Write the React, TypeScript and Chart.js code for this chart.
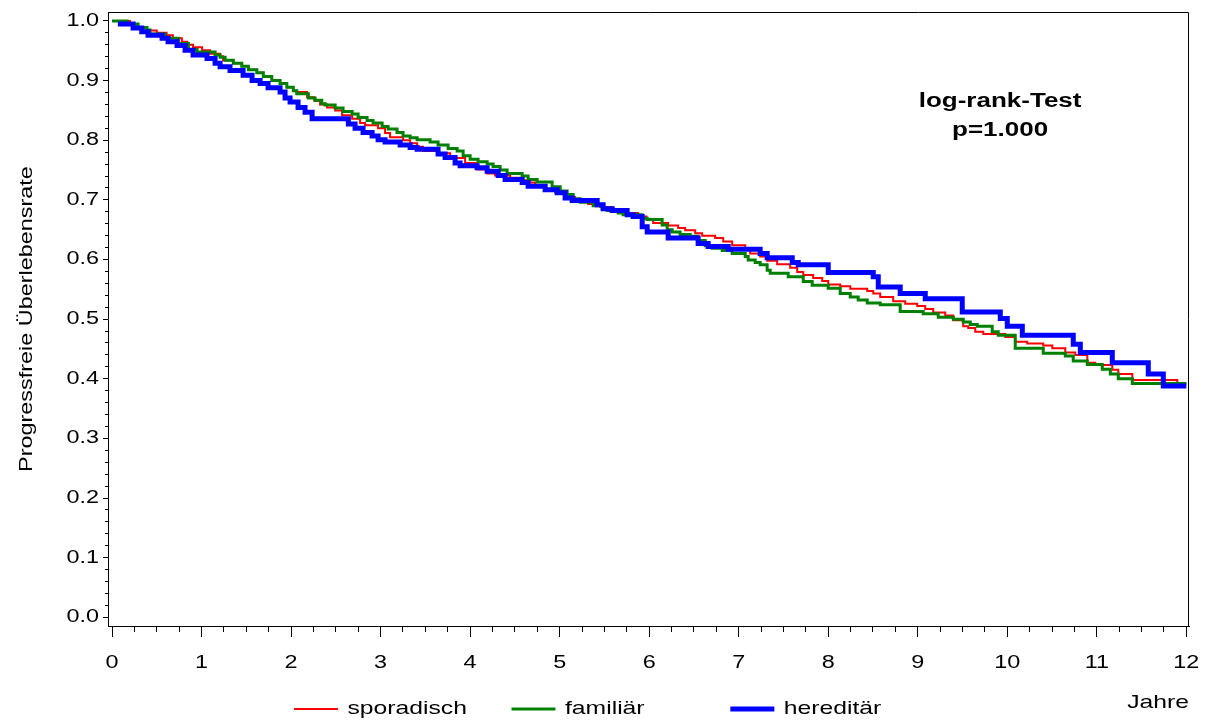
import React, { useEffect, useRef } from 'react';
import { Chart, registerables } from 'chart.js';

Chart.register(...registerables);

// ---------------- data ----------------
const seriesLabels = ['sporadisch', 'familiär', 'hereditär'];

const sporadischTime = [
  0, 0.2, 0.29, 0.39, 0.5, 0.61, 0.68, 0.78, 0.84, 0.905,
  1.006, 1.095, 1.207, 1.24, 1.352, 1.453, 1.52, 1.62, 1.687, 1.788,
  1.877, 1.955, 2.022, 2.06, 2.179, 2.26, 2.324, 2.402, 2.492, 2.57,
  2.682, 2.771, 2.827, 2.972, 3.05, 3.106, 3.251, 3.33, 3.408, 3.475,
  3.631, 3.777, 3.944, 4.078, 4.19, 4.279, 4.447, 4.559, 4.637, 4.726,
  4.838, 4.95, 5.061, 5.173, 5.318, 5.453, 5.587, 5.732, 5.877, 5.97,
  6.045, 6.212, 6.324, 6.402, 6.514, 6.592, 6.737, 6.827, 6.927, 7.073,
  7.128, 7.24, 7.318, 7.43, 7.575, 7.654, 7.721, 7.832, 7.933, 8.0,
  8.134, 8.246, 8.436, 8.503, 8.581, 8.726, 8.86, 8.994, 9.084, 9.173,
  9.307, 9.397, 9.508, 9.564, 9.642, 9.732, 9.978, 10.089, 10.223, 10.402,
  10.503, 10.648, 10.76, 10.894, 10.983, 11.173, 11.24, 11.397, 11.899, 12,
];
const sporadischSurvival = [
  1, 0.995, 0.99, 0.984, 0.98, 0.976, 0.971, 0.965, 0.96, 0.956,
  0.951, 0.945, 0.941, 0.934, 0.929, 0.924, 0.918, 0.913, 0.907, 0.9,
  0.895, 0.889, 0.883, 0.881, 0.872, 0.866, 0.86, 0.855, 0.85, 0.842,
  0.836, 0.829, 0.825, 0.82, 0.812, 0.805, 0.8, 0.795, 0.789, 0.782,
  0.778, 0.77, 0.762, 0.751, 0.744, 0.741, 0.737, 0.733, 0.729, 0.722,
  0.717, 0.712, 0.705, 0.699, 0.693, 0.688, 0.683, 0.678, 0.672, 0.667,
  0.661, 0.657, 0.653, 0.649, 0.644, 0.64, 0.636, 0.63, 0.624, 0.616,
  0.61, 0.605, 0.598, 0.592, 0.586, 0.579, 0.574, 0.569, 0.564, 0.558,
  0.555, 0.551, 0.547, 0.543, 0.537, 0.53, 0.526, 0.522, 0.517, 0.511,
  0.506, 0.498, 0.488, 0.485, 0.479, 0.475, 0.47, 0.462, 0.459, 0.456,
  0.451, 0.444, 0.44, 0.427, 0.423, 0.415, 0.408, 0.398, 0.392, 0.392,
];

const familiaerTime = [
  0, 0.168, 0.291, 0.391, 0.425, 0.592, 0.74, 0.853, 0.95, 1.151,
  1.207, 1.263, 1.355, 1.449, 1.523, 1.617, 1.69, 1.784, 1.877, 1.952,
  2.025, 2.064, 2.193, 2.268, 2.343, 2.38, 2.492, 2.581, 2.682, 2.749,
  2.849, 2.916, 3.017, 3.084, 3.184, 3.251, 3.33, 3.408, 3.553, 3.642,
  3.754, 3.855, 3.922, 4.0, 4.089, 4.19, 4.257, 4.335, 4.413, 4.581,
  4.648, 4.749, 4.916, 5.006, 5.084, 5.151, 5.229, 5.374, 5.475, 5.531,
  5.654, 5.709, 5.922, 5.978, 6.145, 6.201, 6.257, 6.346, 6.458, 6.547,
  6.626, 6.704, 6.816, 6.927, 7.073, 7.106, 7.184, 7.24, 7.318, 7.352,
  7.553, 7.721, 7.821, 8.0, 8.134, 8.246, 8.335, 8.436, 8.581, 8.804,
  9.061, 9.229, 9.397, 9.508, 9.587, 9.665, 9.832, 9.899, 10.089, 10.402,
  10.648, 10.737, 10.894, 11.061, 11.151, 11.24, 11.397, 12,
];
const familiaerSurvival = [
  1, 0.995, 0.989, 0.985, 0.978, 0.971, 0.962, 0.952, 0.948, 0.943,
  0.939, 0.934, 0.929, 0.924, 0.918, 0.913, 0.907, 0.9, 0.895, 0.889,
  0.883, 0.878, 0.871, 0.867, 0.861, 0.859, 0.854, 0.848, 0.844, 0.838,
  0.833, 0.829, 0.823, 0.819, 0.813, 0.807, 0.804, 0.801, 0.797, 0.792,
  0.786, 0.782, 0.774, 0.768, 0.764, 0.76, 0.756, 0.75, 0.744, 0.74,
  0.734, 0.73, 0.722, 0.715, 0.709, 0.702, 0.696, 0.69, 0.685, 0.682,
  0.678, 0.675, 0.669, 0.667, 0.658, 0.65, 0.646, 0.642, 0.639, 0.632,
  0.623, 0.619, 0.615, 0.61, 0.605, 0.599, 0.595, 0.591, 0.582, 0.577,
  0.571, 0.563, 0.557, 0.552, 0.543, 0.537, 0.532, 0.527, 0.524, 0.513,
  0.509, 0.503, 0.5, 0.495, 0.491, 0.488, 0.479, 0.473, 0.451, 0.443,
  0.438, 0.43, 0.424, 0.416, 0.408, 0.4, 0.392, 0.392,
];

const hereditaerTime = [
  0.065, 0.235, 0.332, 0.402, 0.559, 0.626, 0.726, 0.816, 0.905, 1.061,
  1.151, 1.207, 1.318, 1.464, 1.564, 1.654, 1.743, 1.877, 1.933, 1.989,
  2.078, 2.156, 2.235, 2.64, 2.715, 2.804, 2.905, 2.972, 3.05, 3.218,
  3.33, 3.408, 3.642, 3.721, 3.832, 3.888, 4.078, 4.19, 4.313, 4.391,
  4.581, 4.648, 4.838, 4.972, 5.061, 5.14, 5.419, 5.486, 5.587, 5.754,
  5.821, 5.922, 5.978, 6.212, 6.547, 6.659, 6.883, 7.24, 7.318, 7.598,
  7.665, 8.0, 8.503, 8.559, 8.804, 9.084, 9.497, 9.922, 10.0, 10.168,
  10.737, 10.816, 11.173, 11.575, 11.743, 12,
];
const hereditaerSurvival = [
  0.995, 0.988, 0.982, 0.976, 0.971, 0.965, 0.959, 0.951, 0.943, 0.937,
  0.929, 0.923, 0.917, 0.909, 0.9, 0.895, 0.888, 0.881, 0.871, 0.864,
  0.855, 0.847, 0.836, 0.827, 0.82, 0.813, 0.807, 0.801, 0.797, 0.792,
  0.788, 0.785, 0.777, 0.771, 0.762, 0.757, 0.754, 0.748, 0.741, 0.734,
  0.729, 0.723, 0.717, 0.712, 0.703, 0.699, 0.692, 0.685, 0.682, 0.675,
  0.672, 0.655, 0.646, 0.636, 0.627, 0.622, 0.617, 0.61, 0.603, 0.595,
  0.591, 0.578, 0.571, 0.554, 0.543, 0.534, 0.512, 0.501, 0.488, 0.473,
  0.458, 0.444, 0.427, 0.408, 0.388, 0.388,
];

const yAxisTitle = 'Progressfreie Überlebensrate';
const xAxisTitle = 'Jahre';
const annotationLines = ['log-rank-Test', 'p=1.000'];
const annotationX = 9.92;
const annotationY = [0.865, 0.817];

// ---------------- styling ----------------
const FONT = '"Liberation Sans", Arial, Helvetica, sans-serif';
const TEXT_STRETCH = 1.3;
const seriesColors = ['#ff0000', '#008000', '#0000ff'];
const seriesWidths = [2, 3, 5];
const seriesOrder = [3, 2, 1];
const legendPadSpaces = [3, 9, 2];

const toPoints = (t: number[], s: number[]) => {
  const n = Math.min(t.length, s.length);
  const out: { x: number; y: number }[] = [];
  for (let i = 0; i < n; i++) out.push({ x: t[i], y: s[i] });
  return out;
};

const isWhole = (v: number, f: number) => Math.abs(v * f - Math.round(v * f)) < 1e-6;

const framePlugin = {
  id: 'frame',
  afterDraw(chart: any) {
    const { ctx, chartArea } = chart;
    ctx.save();
    ctx.strokeStyle = '#000';
    ctx.lineWidth = 1;
    ctx.beginPath();
    ctx.moveTo(chartArea.left, chartArea.top + 0.5);
    ctx.lineTo(chartArea.right - 0.5, chartArea.top + 0.5);
    ctx.lineTo(chartArea.right - 0.5, chartArea.bottom);
    ctx.stroke();
    ctx.restore();
  },
};

const annotationPlugin = {
  id: 'annotation',
  afterDraw(chart: any) {
    const { ctx, scales } = chart;
    ctx.save();
    ctx.font = `bold 20px ${FONT}`;
    ctx.fillStyle = '#000';
    ctx.textAlign = 'center';
    ctx.textBaseline = 'middle';
    const px = scales.x.getPixelForValue(annotationX);
    annotationLines.forEach((line, i) => {
      ctx.fillText(line, px, scales.y.getPixelForValue(annotationY[i]));
    });
    ctx.restore();
  },
};

export default function App() {
  const ref = useRef<HTMLCanvasElement>(null);

  useEffect(() => {
    const canvas = ref.current;
    if (!canvas) return;
    const ctx = canvas.getContext('2d') as any;
    const proto = CanvasRenderingContext2D.prototype;
    // wide text, as in the original device font
    ctx.fillText = function (text: string, x: number, y: number) {
      this.save();
      this.translate(x, y);
      this.scale(TEXT_STRETCH, 1);
      proto.fillText.call(this, text, 0, 0);
      this.restore();
    };
    ctx.measureText = function (text: string) {
      const m = proto.measureText.call(this, text);
      return {
        width: m.width * TEXT_STRETCH,
        actualBoundingBoxAscent: m.actualBoundingBoxAscent,
        actualBoundingBoxDescent: m.actualBoundingBoxDescent,
        actualBoundingBoxLeft: m.actualBoundingBoxLeft * TEXT_STRETCH,
        actualBoundingBoxRight: m.actualBoundingBoxRight * TEXT_STRETCH,
        fontBoundingBoxAscent: m.fontBoundingBoxAscent,
        fontBoundingBoxDescent: m.fontBoundingBoxDescent,
      };
    };

    Chart.defaults.font.family = FONT;
    Chart.defaults.color = '#000';

    const series = [
      toPoints(sporadischTime, sporadischSurvival),
      toPoints(familiaerTime, familiaerSurvival),
      toPoints(hereditaerTime, hereditaerSurvival),
    ];

    const chart = new Chart(canvas, {
      type: 'line',
      data: {
        datasets: series.map((data, i) => ({
          label: seriesLabels[i],
          data,
          borderColor: seriesColors[i],
          backgroundColor: seriesColors[i],
          borderWidth: seriesWidths[i],
          stepped: true,
          pointRadius: 0,
          fill: false,
          order: seriesOrder[i],
        })),
      },
      options: {
        responsive: false,
        animation: false,
        events: [],
        layout: { padding: { left: 0, right: 17, top: 12, bottom: -6.4 } },
        plugins: {
          tooltip: { enabled: false },
          legend: {
            position: 'bottom',
            labels: {
              usePointStyle: true,
              pointStyle: 'line',
              pointStyleWidth: 44,
              padding: 24,
              color: '#000',
              font: { size: 19, family: FONT },
              sort: (a: any, b: any) => a.datasetIndex - b.datasetIndex,
              generateLabels: (ch: any) =>
                ch.data.datasets.map((ds: any, i: number) => ({
                  text: ds.label + ' '.repeat(legendPadSpaces[i]),
                  fillStyle: ds.borderColor,
                  strokeStyle: ds.borderColor,
                  lineWidth: ds.borderWidth,
                  lineCap: 'butt',
                  pointStyle: 'line',
                  hidden: false,
                  fontColor: '#000',
                  datasetIndex: i,
                })),
            },
          },
        },
        scales: {
          x: {
            type: 'linear',
            min: -0.045,
            max: 12.03,
            afterFit: (s: any) => {
              s.height = 49.3;
            },
            border: { display: true, color: '#000', width: 1 },
            grid: {
              drawOnChartArea: false,
              drawTicks: true,
              tickLength: 26,
              tickColor: '#000',
              tickWidth: 1,
              tickBorderDash: (c: any) =>
                c.tick && isWhole(c.tick.value, 1) ? [10, 100] : [5, 100],
            },
            ticks: {
              stepSize: 0.25,
              autoSkip: false,
              includeBounds: false,
              maxRotation: 0,
              minRotation: 0,
              padding: 0,
              color: '#000',
              font: { size: 18, family: FONT },
              callback: (v: any) => (isWhole(Number(v), 1) ? String(Math.round(Number(v))) : ''),
            },
            title: {
              display: true,
              text: xAxisTitle,
              align: 'end',
              color: '#000',
              font: { size: 19, family: FONT },
              padding: { top: 0, bottom: -38.8 },
            },
          },
          y: {
            type: 'linear',
            min: -0.0147,
            max: 1.015,
            afterFit: (s: any) => {
              s.width = 108;
            },
            border: { display: true, color: '#000', width: 1 },
            grid: {
              drawOnChartArea: false,
              drawTicks: true,
              tickLength: 9,
              tickColor: '#000',
              tickWidth: 1,
              tickBorderDash: (c: any) =>
                c.tick && isWhole(c.tick.value, 10) ? [0, 4, 5, 100] : [0, 6, 3, 100],
            },
            ticks: {
              stepSize: 0.02,
              autoSkip: false,
              includeBounds: false,
              padding: 0,
              color: '#000',
              font: { size: 18, family: FONT },
              callback: (v: any) =>
                isWhole(Number(v), 10) ? (Math.round(Number(v) * 10) / 10).toFixed(1) : '',
            },
            title: {
              display: true,
              text: yAxisTitle,
              color: '#000',
              font: { size: 18, family: FONT },
              padding: { top: 16, bottom: 0 },
            },
          },
        },
      } as any,
      plugins: [framePlugin, annotationPlugin],
    });

    return () => {
      chart.destroy();
      delete ctx.fillText;
      delete ctx.measureText;
    };
  }, []);

  return (
    <div style={{ position: 'fixed', left: 0, top: 0, width: 1206, height: 722, background: '#fff' }}>
      <canvas ref={ref} width={1206} height={722} style={{ display: 'block', width: 1206, height: 722 }} />
    </div>
  );
}
